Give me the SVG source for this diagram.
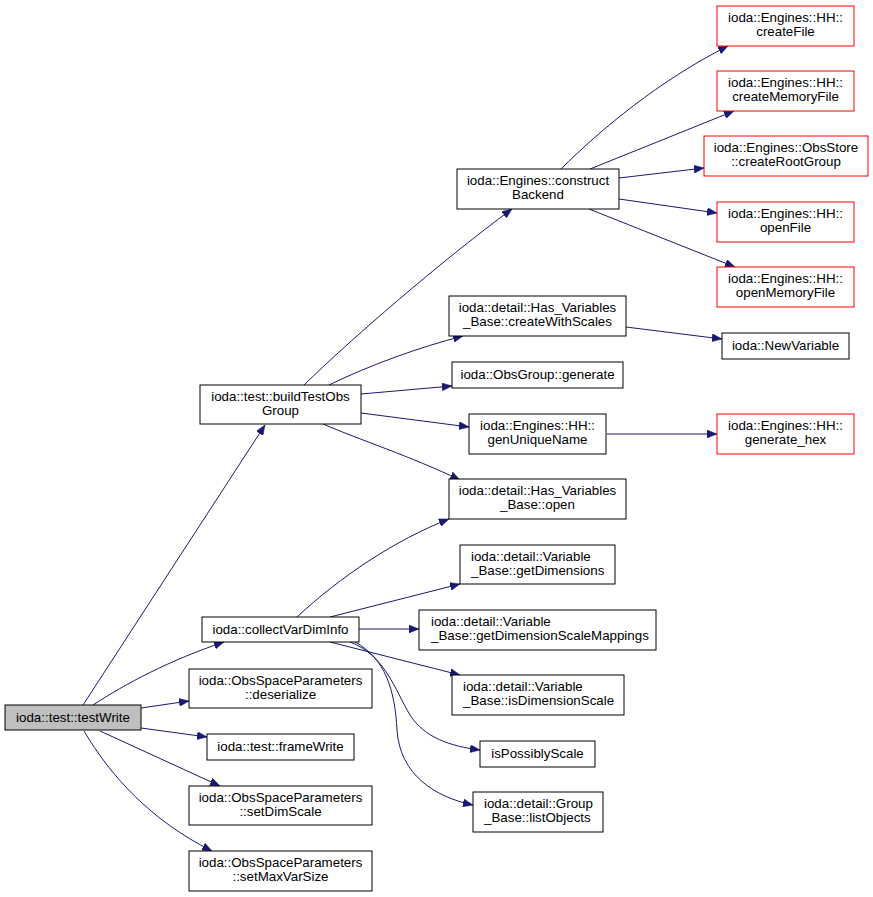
<svg xmlns="http://www.w3.org/2000/svg" width="873" height="897" viewBox="0 0 873 897">
<style>
rect{fill:#fff;stroke:#000;stroke-width:1}
.red rect{stroke:#ff0000}
.root rect{fill:#bfbfbf}
text{font-family:"Liberation Sans",Arial,sans-serif;font-size:13.33px;text-anchor:middle;fill:#000}
text.l{text-anchor:start}
#edges path{fill:none;stroke:#191970;stroke-width:1;marker-end:url(#ah)}
</style>
<defs>
<marker id="ah" viewBox="0 0 10 8" refX="10" refY="4" markerWidth="10" markerHeight="8" markerUnits="userSpaceOnUse" orient="auto">
<path d="M0,0 L10,4 L0,8 z" fill="#191970" stroke="#191970" stroke-width="0.5"/>
</marker>
</defs>
<rect x="0" y="0" width="873" height="897" style="fill:#fff;stroke:none"/>
<g id="edges">
<path d="M83,705 L265,425"/>
<path d="M93,705 C125,684 170,660 224,642"/>
<path d="M141,708 L189,701"/>
<path d="M141,728 L207,737"/>
<path d="M100,731 L220,786"/>
<path d="M84,731 C110,775 150,820 212,851"/>
<path d="M304,385 C350,340 440,262 512,209"/>
<path d="M329,385 C370,365 420,347 463,336"/>
<path d="M361,394 L452,386"/>
<path d="M361,413 L469,427"/>
<path d="M323,424 C360,440 410,456 460,480"/>
<path d="M561,169 C600,130 660,80 728,46"/>
<path d="M590,169 L734,111"/>
<path d="M619,178 L704,168"/>
<path d="M619,199 L717,213"/>
<path d="M589,209 L735,267"/>
<path d="M626,327 L722,339"/>
<path d="M607,434 L717,434"/>
<path d="M297,617 C340,577 395,540 449,519"/>
<path d="M330,617 L460,584"/>
<path d="M359,629 L419,629"/>
<path d="M330,642 L460,675"/>
<path d="M350,642 C385,655 395,690 410,715 C425,738 450,746 480,750"/>
<path d="M355,642 C385,658 395,690 397,730 C400,775 435,797 473,805"/>
</g>
<g id="testWrite" class="root"><rect x="5" y="705" width="136" height="25"/><text x="73" y="722">ioda::test::testWrite</text></g>
<g id="buildTestObsGroup"><rect x="200" y="385" width="161" height="39"/><text x="280.5" y="401">ioda::test::buildTestObs</text><text x="280.5" y="415">Group</text></g>
<g id="collectVarDimInfo"><rect x="202" y="617" width="157" height="25"/><text x="280.5" y="634">ioda::collectVarDimInfo</text></g>
<g id="deserialize"><rect x="189" y="669" width="183" height="39"/><text x="280.5" y="685">ioda::ObsSpaceParameters</text><text x="280.5" y="699">::deserialize</text></g>
<g id="frameWrite"><rect x="207" y="734" width="147" height="26"/><text x="280.5" y="751">ioda::test::frameWrite</text></g>
<g id="setDimScale"><rect x="189" y="786" width="183" height="39"/><text x="280.5" y="802">ioda::ObsSpaceParameters</text><text x="280.5" y="816">::setDimScale</text></g>
<g id="setMaxVarSize"><rect x="189" y="851" width="183" height="40"/><text x="280.5" y="867">ioda::ObsSpaceParameters</text><text x="280.5" y="881">::setMaxVarSize</text></g>
<g id="constructBackend"><rect x="457" y="169" width="162" height="40"/><text x="538" y="185">ioda::Engines::construct</text><text x="538" y="199">Backend</text></g>
<g id="createFile" class="red"><rect x="717" y="6" width="137" height="40"/><text x="785.5" y="22">ioda::Engines::HH::</text><text x="785.5" y="36">createFile</text></g>
<g id="createMemoryFile" class="red"><rect x="717" y="71" width="137" height="40"/><text x="785.5" y="87">ioda::Engines::HH::</text><text x="785.5" y="101">createMemoryFile</text></g>
<g id="createRootGroup" class="red"><rect x="704" y="136" width="164" height="40"/><text x="786" y="152">ioda::Engines::ObsStore</text><text x="786" y="166">::createRootGroup</text></g>
<g id="openFile" class="red"><rect x="717" y="202" width="137" height="40"/><text x="785.5" y="218">ioda::Engines::HH::</text><text x="785.5" y="232">openFile</text></g>
<g id="openMemoryFile" class="red"><rect x="717" y="267" width="137" height="40"/><text x="785.5" y="283">ioda::Engines::HH::</text><text x="785.5" y="297">openMemoryFile</text></g>
<g id="createWithScales"><rect x="449" y="296" width="177" height="40"/><text x="537.5" y="312">ioda::detail::Has_Variables</text><text x="537.5" y="326">_Base::createWithScales</text></g>
<g id="NewVariable"><rect x="722" y="333" width="127" height="26"/><text x="785.5" y="350">ioda::NewVariable</text></g>
<g id="generate"><rect x="452" y="362" width="171" height="26"/><text x="537.5" y="379">ioda::ObsGroup::generate</text></g>
<g id="genUniqueName"><rect x="469" y="414" width="137" height="40"/><text x="537.5" y="430">ioda::Engines::HH::</text><text x="537.5" y="444">genUniqueName</text></g>
<g id="generate_hex" class="red"><rect x="717" y="414" width="137" height="40"/><text x="785.5" y="430">ioda::Engines::HH::</text><text x="785.5" y="444">generate_hex</text></g>
<g id="open"><rect x="449" y="479" width="177" height="40"/><text x="537.5" y="495">ioda::detail::Has_Variables</text><text x="537.5" y="509">_Base::open</text></g>
<g id="getDimensions"><rect x="460" y="545" width="155" height="39"/><text class="l" x="471" y="561">ioda::detail::Variable</text><text class="l" x="471" y="575">_Base::getDimensions</text></g>
<g id="getDimensionScaleMappings"><rect x="419" y="610" width="237" height="40"/><text class="l" x="431" y="626">ioda::detail::Variable</text><text class="l" x="431" y="640">_Base::getDimensionScaleMappings</text></g>
<g id="isDimensionScale"><rect x="452" y="675" width="172" height="40"/><text class="l" x="463" y="691">ioda::detail::Variable</text><text class="l" x="463" y="705">_Base::isDimensionScale</text></g>
<g id="isPossiblyScale"><rect x="480" y="741" width="115" height="26"/><text x="537.5" y="758">isPossiblyScale</text></g>
<g id="listObjects"><rect x="473" y="792" width="130" height="40"/><text class="l" x="484" y="808">ioda::detail::Group</text><text class="l" x="484" y="822">_Base::listObjects</text></g>
</svg>
